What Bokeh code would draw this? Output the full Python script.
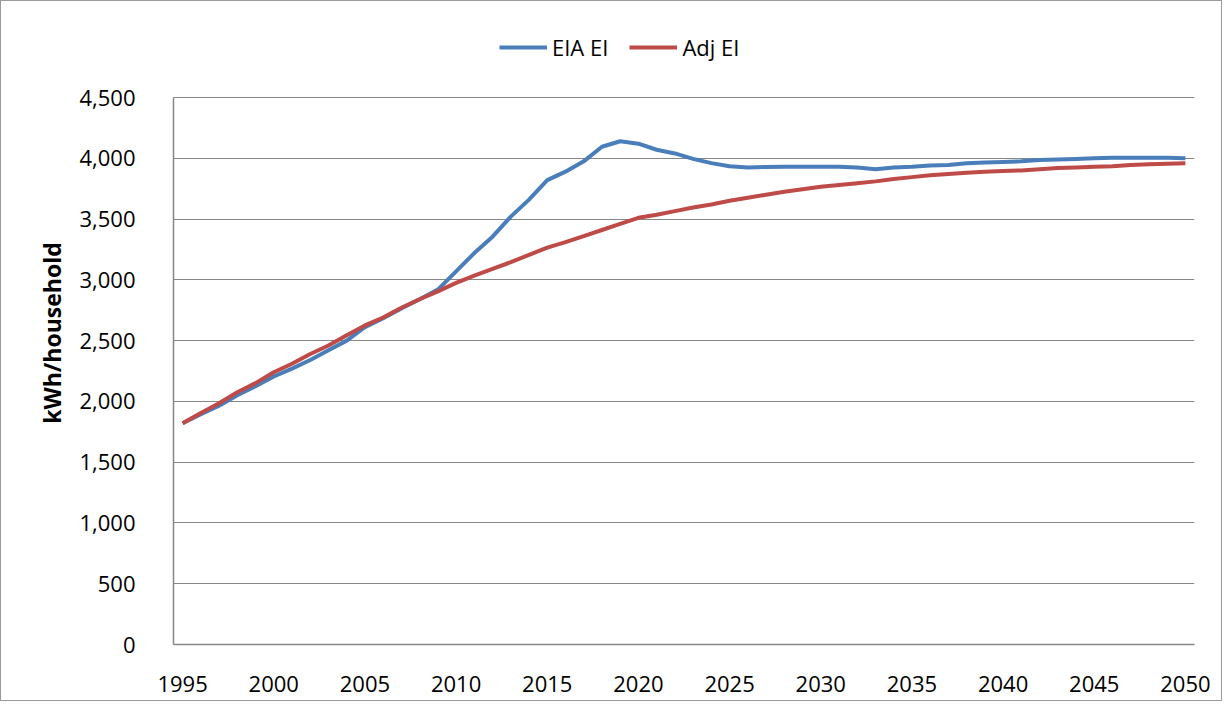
from bokeh.plotting import figure
from bokeh.models import Range1d, FixedTicker, NumeralTickFormatter, Legend, LegendItem, ColumnDataSource
from bokeh.embed import file_html
from bokeh.resources import INLINE

years = list(range(1995, 2051))
eia_ei = [1820, 1895, 1965, 2050, 2125, 2205, 2270, 2340, 2420, 2500,
          2610, 2685, 2765, 2840, 2920, 3070, 3220, 3355, 3520, 3660,
          3820, 3890, 3975, 4095, 4140, 4120, 4070, 4040, 3995, 3960,
          3935, 3925, 3928, 3930, 3930, 3930, 3930, 3925, 3910, 3925,
          3930, 3940, 3945, 3960, 3965, 3970, 3975, 3985, 3990, 3995,
          4000, 4005, 4005, 4005, 4005, 4000]
adj_ei = [1820, 1905, 1985, 2075, 2150, 2240, 2310, 2390, 2460, 2545,
          2625, 2690, 2770, 2840, 2905, 2975, 3035, 3090, 3145, 3205,
          3265, 3310, 3360, 3410, 3460, 3510, 3535, 3565, 3595, 3620,
          3650, 3675, 3700, 3725, 3745, 3765, 3780, 3795, 3810, 3830,
          3845, 3860, 3870, 3880, 3890, 3895, 3900, 3910, 3920, 3925,
          3930, 3935, 3945, 3950, 3955, 3960]
x_ticks = list(range(1995, 2051, 5))
y_ticks = list(range(0, 4501, 500))
series_names = ["EIA EI", "Adj EI"]

src = ColumnDataSource(dict(year=years, eia=eia_ei, adj=adj_ei))

FONT = "Open Sans"
Y_MAX = 4500
# frame extends above the top gridline so the legend can sit inside it
Y_TOP = Y_MAX * 623 / 547

p = figure(width=1222, height=701, output_backend="svg", toolbar_location=None,
           x_range=Range1d(1994.5, 2050.5), y_range=Range1d(0, Y_TOP),
           min_border_left=172, min_border_right=29, min_border_top=20, min_border_bottom=58)
p.styles = {"border": "1px solid #9a9a9a"}
p.outline_line_color = None
p.background_fill_color = "white"
p.border_fill_color = "white"

r1 = p.line("year", "eia", source=src, line_color="#4A7EBB", line_width=4)
r2 = p.line("year", "adj", source=src, line_color="#BE4B48", line_width=4)

p.xaxis.ticker = FixedTicker(ticks=x_ticks)
p.yaxis.ticker = FixedTicker(ticks=y_ticks)
p.yaxis.formatter = NumeralTickFormatter(format="0,0")
p.yaxis.bounds = (0, Y_MAX)
for ax in (p.xaxis[0], p.yaxis[0]):
    ax.axis_line_color = "#868686"
    ax.axis_line_width = 1.5
    ax.major_tick_line_color = None
    ax.minor_tick_line_color = None
    ax.major_label_text_font = FONT
    ax.major_label_text_font_size = "22px"
    ax.major_label_text_color = "#000000"
p.yaxis.major_label_standoff = 32
p.xaxis.major_label_standoff = 25
p.yaxis.axis_label = "kWh/household"
p.yaxis.axis_label_text_font = FONT
p.yaxis.axis_label_text_font_size = "23px"
p.yaxis.axis_label_text_font_style = "bold"
p.yaxis.axis_label_text_color = "#000000"
p.yaxis.axis_label_standoff = 8

p.xgrid.grid_line_color = None
p.ygrid.grid_line_color = "#868686"
p.ygrid.grid_line_width = 1.2

legend = Legend(items=[LegendItem(label=series_names[0], renderers=[r1]),
                       LegendItem(label=series_names[1], renderers=[r2])],
                orientation="horizontal", location=(326, 582))
legend.border_line_color = None
legend.background_fill_alpha = 0
legend.label_text_font = FONT
legend.label_text_font_size = "22px"
legend.label_text_color = "#000000"
legend.glyph_width = 48
legend.spacing = 21
legend.label_standoff = 5
legend.padding = 0
legend.margin = 0
p.add_layout(legend, "center")

open("out.html", "w").write(file_html(p, INLINE))
